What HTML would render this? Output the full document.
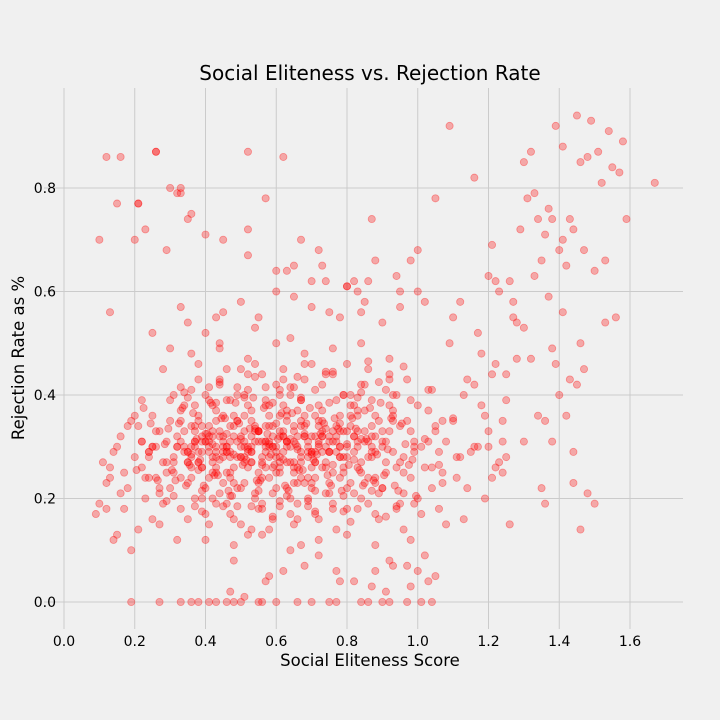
<!DOCTYPE html>
<html><head><meta charset="utf-8"><style>
body{margin:0;background:#f0f0f0;}
svg{display:block;font-family:"DejaVu Sans","Liberation Sans",sans-serif;}
</style></head><body>
<svg id="c" width="720" height="720">
<rect width="720" height="720" fill="#f0f0f0"/>
<g id="grid"></g>
<g id="pts"></g>
<g id="ticks"></g>
<text x="370" y="80" font-size="20" text-anchor="middle" fill="#000">Social Eliteness vs. Rejection Rate</text>
<text x="370" y="666" font-size="16.5" text-anchor="middle" fill="#000">Social Eliteness Score</text>
<text x="24" y="358" font-size="16.5" text-anchor="middle" fill="#000" transform="rotate(-90 24 358)">Rejection Rate as %</text>
</svg>
<script>
const xTicks=[0,0.2,0.4,0.6,0.8,1.0,1.2,1.4,1.6];
const xTickLabels=["0.0","0.2","0.4","0.6","0.8","1.0","1.2","1.4","1.6"];
const yTicks=[0,0.2,0.4,0.6,0.8];
const yTickLabels=["0.0","0.2","0.4","0.6","0.8"];
const xs=[
0.32,0.34,0.36,0.38,0.40,0.42,0.44,0.46,0.48,0.50,0.52,0.54,0.56,0.58,0.60,0.62,0.64,0.66,0.68,0.70,0.72,0.74,0.76,0.78,0.80,0.82,0.84,0.86,0.88,0.90,
0.31,0.35,0.37,0.39,0.41,0.43,0.45,0.47,0.49,0.51,0.53,0.55,0.57,0.59,0.61,0.63,0.65,0.67,0.69,0.71,0.73,0.75,0.77,0.79,0.81,0.83,0.85,0.87,0.89,0.91,
0.30,0.33,0.36,0.39,0.42,0.45,0.48,0.51,0.54,0.57,0.60,0.63,0.66,0.69,0.72,0.75,0.78,0.81,0.84,0.87,0.90,0.93,0.96,0.99,1.02,1.05,0.28,0.26,0.24,0.22,
0.34,0.37,0.40,0.43,0.46,0.49,0.52,0.55,0.58,0.61,0.64,0.67,0.70,0.73,0.76,0.79,0.82,0.85,0.88,0.91,0.94,0.97,1.00,1.03,1.06,0.29,0.27,0.25,0.23,0.21,
0.35,0.38,0.41,0.44,0.47,0.50,0.53,0.56,0.59,0.62,0.65,0.68,0.71,0.74,0.77,0.80,0.83,0.86,0.89,0.92,0.95,0.98,1.01,1.04,1.07,0.33,0.31,0.29,0.27,0.25,
0.36,0.40,0.44,0.48,0.52,0.56,0.60,0.64,0.68,0.72,0.76,0.80,0.84,0.88,0.92,0.96,0.38,0.42,0.46,0.50,0.54,0.58,0.62,0.66,0.70,0.74,0.78,0.82,0.86,0.90,
0.41,0.45,0.49,0.53,0.57,0.61,0.65,0.69,0.73,0.77,0.81,0.85,0.39,0.43,0.47,0.51,0.55,0.59,0.63,0.67,0.71,0.75,0.79,0.83,0.87,0.37,0.53,0.57,0.61,0.65,
0.20,0.18,0.16,0.15,0.13,0.12,0.10,0.19,0.17,0.14,0.22,0.24,0.26,0.11,0.09,0.21,0.23,0.25,0.15,0.18,0.20,0.13,0.17,0.22,0.19,0.16,0.12,0.27,0.14,0.24,
1.08,1.10,1.12,1.14,1.16,1.18,1.20,1.22,1.24,1.09,1.11,1.13,1.15,1.17,1.19,1.21,1.23,1.25,1.27,1.05,1.07,1.03,1.01,0.99,0.97,0.95,0.93,1.06,1.10,1.14,
1.18,1.22,1.26,1.30,1.12,1.16,1.20,1.24,1.28,1.32,1.36,1.04,1.08,1.02,0.98,0.94,1.00,0.96,0.92,1.13,1.17,1.21,1.25,
0.45,0.50,0.55,0.60,0.65,0.70,0.75,0.80,0.85,0.90,0.95,1.00,0.40,0.35,0.30,0.48,0.58,0.68,0.78,0.88,0.98,1.05,0.52,0.62,0.72,0.82,0.92,0.44,0.54,0.64,
0.74,0.84,0.94,0.47,0.57,0.67,0.77,0.87,0.97,0.33,0.43,0.63,0.73,0.83,0.93,1.03,0.38,0.28,0.25,0.32,
0.12,0.15,0.21,0.26,0.30,0.33,0.36,0.40,0.45,0.52,0.57,0.62,0.67,0.72,0.86,0.52,0.35,0.29,0.20,0.60,0.65,0.70,0.80,0.82,0.88,0.95,1.02,0.98,0.91,0.86,
0.48,0.50,0.51,0.36,0.43,0.38,0.60,0.66,0.75,0.84,0.92,0.97,1.01,0.19,0.27,0.33,0.56,0.77,0.90,1.04,0.70,0.55,0.46,0.41,
1.30,1.33,1.36,1.39,1.42,1.45,1.48,1.51,1.54,1.57,1.31,1.34,1.37,1.40,1.43,1.46,1.49,1.52,1.55,1.58,1.29,1.32,1.35,1.38,1.41,1.44,1.47,1.50,1.53,1.56,
1.67,1.59,1.53,1.45,1.40,1.42,1.46,1.38,1.34,1.28,1.26,1.24,1.22,1.20,1.19,1.35,1.44,1.48,1.37,1.33,1.30,1.27,1.23,1.39,1.43,1.41,1.46,1.36,1.25,1.21,
1.09,1.05,1.16,1.00,0.87,0.78,0.52,0.26,0.13,0.16,0.21,0.32,0.33,0.23,0.10,1.41,1.47,1.50,1.44,1.38,
0.31,0.33,0.35,0.37,0.39,0.41,0.43,0.45,0.47,0.49,0.51,0.53,0.55,0.57,0.59,0.61,0.63,0.65,0.67,0.69,0.71,0.73,0.75,0.77,0.79,
0.32,0.34,0.36,0.38,0.40,0.42,0.44,0.46,0.48,0.50,0.52,0.54,0.56,0.58,0.60,0.62,0.64,0.66,0.68,0.70,0.72,0.74,0.76,0.78,0.80,
0.33,0.36,0.38,0.41,0.43,0.46,0.48,0.51,0.53,0.56,0.58,0.61,0.63,0.66,0.68,0.71,0.73,0.76,0.78,0.81,0.83,0.86,0.88,0.91,0.93,
0.30,0.35,0.37,0.40,0.42,0.45,0.47,0.50,0.52,0.55,0.57,0.60,0.62,0.65,0.67,0.70,0.72,0.75,0.77,0.80,0.82,0.85,0.87,0.90,0.92,
0.34,0.39,0.44,0.49,0.54,0.59,0.64,0.69,0.74,0.79,0.84,0.89,0.94,0.99,0.36,0.41,0.46,0.51,0.56,0.61,0.66,0.71,0.76,0.81,0.86,
0.38,0.43,0.48,0.53,0.58,0.63,0.68,0.73,0.78,0.83,0.88,0.93,0.98,0.32,0.37,0.42,0.47,0.52,0.57,0.62,0.67,0.72,0.77,0.82,0.87,
0.25,0.27,0.29,0.31,0.33,0.35,0.37,0.39,0.41,0.43,0.45,0.47,0.49,0.51,0.53,0.55,0.57,0.59,0.61,0.63,0.65,0.67,0.69,0.71,0.73,
0.40,0.44,0.48,0.52,0.56,0.60,0.64,0.68,0.72,0.76,0.80,0.84,0.88,0.92,0.96,1.00,1.04,0.42,0.46,0.50,0.54,0.58,0.62,0.66,0.70,
0.35,0.39,0.43,0.47,0.51,0.55,0.59,0.63,0.67,0.71,0.75,0.79,0.83,0.87,0.91,0.95,0.99,1.03,1.07,1.11,0.26,0.24,0.22,0.28,0.30,
0.45,0.50,0.55,0.60,0.65,0.70,0.75,0.80,0.85,0.90,0.53,0.58,0.63,0.68,0.73,0.78,0.83,0.88,0.93,0.98,0.36,0.41,0.46,0.56,0.61,
0.305,0.325,0.345,0.365,0.385,0.405,0.425,0.445,0.465,0.485,0.505,0.525,0.545,0.565,0.585,0.605,0.625,0.645,0.665,0.685,0.705,0.725,0.745,0.765,0.785,
0.295,0.315,0.335,0.355,0.375,0.395,0.415,0.435,0.455,0.475,0.495,0.515,0.535,0.555,0.575,0.595,0.615,0.635,0.655,0.675,0.695,0.715,0.735,0.755,0.775,
0.805,0.825,0.845,0.865,0.885,0.905,0.925,0.945,0.965,0.985,0.815,0.835,0.855,0.875,0.895,0.915,0.935,0.955,0.975,0.995,0.245,0.265,0.285,0.225,0.205,
0.31,0.35,0.39,0.43,0.47,0.51,0.55,0.59,0.63,0.67,0.71,0.75,0.79,0.83,0.87,0.33,0.37,0.41,0.45,0.49,0.53,0.57,0.61,0.65,0.69,
0.42,0.44,0.46,0.48,0.50,0.52,0.54,0.56,0.58,0.60,0.62,0.64,0.66,0.68,0.70,0.72,0.74,0.36,0.38,0.40,0.76,0.78,0.80,0.82,0.84,
0.29,0.34,0.39,0.44,0.49,0.54,0.59,0.64,0.69,0.74,0.79,0.84,0.89,0.94,1.02,1.06,1.10,0.96,0.91,0.86,0.81,0.76,0.71,0.66,0.61
];
const ys=[
0.30,0.33,0.28,0.35,0.31,0.27,0.32,0.29,0.34,0.30,0.26,0.33,0.31,0.28,0.29,0.32,0.27,0.30,0.34,0.29,0.31,0.26,0.33,0.28,0.30,0.32,0.27,0.31,0.29,0.33,
0.25,0.29,0.34,0.26,0.30,0.35,0.28,0.24,0.31,0.36,0.29,0.25,0.34,0.30,0.27,0.35,0.31,0.24,0.28,0.36,0.26,0.32,0.29,0.25,0.34,0.30,0.37,0.28,0.35,0.31,
0.22,0.37,0.24,0.31,0.20,0.36,0.23,0.33,0.21,0.38,0.25,0.22,0.37,0.24,0.35,0.21,0.30,0.38,0.25,0.32,0.22,0.36,0.28,0.31,0.26,0.33,0.27,0.33,0.29,0.26,
0.38,0.20,0.40,0.19,0.39,0.22,0.41,0.18,0.38,0.41,0.20,0.39,0.23,0.42,0.18,0.40,0.21,0.42,0.24,0.41,0.26,0.43,0.20,0.37,0.29,0.31,0.22,0.36,0.24,0.34,
0.16,0.43,0.15,0.42,0.17,0.45,0.14,0.44,0.16,0.43,0.15,0.46,0.17,0.44,0.14,0.46,0.18,0.45,0.16,0.44,0.19,0.39,0.17,0.41,0.23,0.18,0.40,0.27,0.21,0.30,
0.48,0.12,0.49,0.11,0.47,0.13,0.50,0.10,0.48,0.12,0.49,0.13,0.50,0.11,0.47,0.14,0.27,0.33,0.30,0.28,0.31,0.34,0.29,0.32,0.26,0.30,0.33,0.29,0.28,0.31,
0.29,0.31,0.35,0.32,0.30,0.36,0.33,0.30,0.32,0.34,0.36,0.33,0.32,0.25,0.28,0.30,0.33,0.26,0.31,0.27,0.32,0.29,0.33,0.26,0.34,0.30,0.27,0.31,0.33,0.26,
0.28,0.34,0.21,0.30,0.24,0.18,0.19,0.35,0.25,0.29,0.39,0.24,0.30,0.27,0.17,0.14,0.20,0.16,0.13,0.22,0.36,0.26,0.18,0.31,0.10,0.32,0.23,0.15,0.12,0.28,
0.31,0.35,0.28,0.43,0.30,0.38,0.33,0.46,0.31,0.50,0.24,0.40,0.29,0.52,0.36,0.44,0.27,0.39,0.55,0.34,0.25,0.41,0.30,0.19,0.35,0.27,0.40,0.18,0.55,0.22,
0.48,0.26,0.62,0.31,0.58,0.42,0.63,0.35,0.54,0.47,0.35,0.22,0.15,0.09,0.12,0.18,0.06,0.25,0.33,0.16,0.30,0.24,0.28,
0.56,0.58,0.55,0.60,0.59,0.57,0.56,0.61,0.58,0.54,0.57,0.60,0.52,0.54,0.49,0.08,0.05,0.07,0.04,0.06,0.03,0.05,0.13,0.06,0.09,0.04,0.08,0.50,0.53,0.51,
0.62,0.56,0.63,0.02,0.04,0.11,0.06,0.03,0.07,0.57,0.55,0.64,0.65,0.60,0.07,0.04,0.46,0.45,0.52,0.12,
0.86,0.77,0.77,0.87,0.80,0.79,0.75,0.71,0.70,0.67,0.78,0.86,0.70,0.68,0.62,0.72,0.74,0.68,0.70,0.64,0.65,0.62,0.61,0.62,0.66,0.60,0.58,0.66,0.02,0.00,
0.00,0.00,0.01,0.00,0.00,0.00,0.00,0.00,0.00,0.00,0.00,0.00,0.00,0.00,0.00,0.00,0.00,0.00,0.00,0.00,0.00,0.00,0.00,0.00,
0.85,0.79,0.71,0.92,0.65,0.94,0.86,0.87,0.91,0.83,0.78,0.74,0.76,0.68,0.74,0.85,0.93,0.81,0.84,0.89,0.72,0.87,0.66,0.74,0.70,0.72,0.68,0.64,0.66,0.55,
0.81,0.74,0.54,0.42,0.40,0.36,0.50,0.49,0.36,0.47,0.15,0.25,0.62,0.30,0.20,0.22,0.29,0.21,0.59,0.63,0.53,0.58,0.60,0.46,0.43,0.56,0.14,0.19,0.44,0.69,
0.92,0.78,0.82,0.68,0.74,0.55,0.87,0.87,0.56,0.86,0.77,0.79,0.80,0.72,0.70,0.88,0.45,0.19,0.23,0.31,
0.28,0.31,0.27,0.33,0.29,0.32,0.26,0.30,0.34,0.28,0.31,0.27,0.33,0.29,0.32,0.26,0.30,0.34,0.28,0.31,0.27,0.33,0.29,0.32,0.26,
0.32,0.29,0.34,0.27,0.31,0.28,0.33,0.30,0.26,0.32,0.29,0.34,0.27,0.31,0.28,0.33,0.30,0.26,0.32,0.29,0.34,0.27,0.31,0.28,0.33,
0.24,0.26,0.36,0.24,0.37,0.25,0.36,0.23,0.37,0.24,0.36,0.25,0.37,0.23,0.36,0.24,0.37,0.25,0.36,0.23,0.37,0.24,0.36,0.25,0.37,
0.35,0.23,0.38,0.22,0.38,0.23,0.39,0.22,0.38,0.23,0.39,0.22,0.38,0.23,0.39,0.22,0.38,0.23,0.39,0.22,0.38,0.23,0.39,0.22,0.38,
0.30,0.20,0.21,0.40,0.20,0.21,0.40,0.20,0.21,0.40,0.20,0.21,0.40,0.30,0.41,0.39,0.19,0.40,0.19,0.40,0.19,0.41,0.19,0.40,0.19,
0.29,0.30,0.32,0.29,0.30,0.31,0.32,0.29,0.30,0.31,0.32,0.29,0.33,0.30,0.31,0.32,0.29,0.30,0.31,0.32,0.29,0.30,0.31,0.32,0.29,
0.30,0.33,0.25,0.27,0.35,0.29,0.31,0.26,0.34,0.28,0.32,0.25,0.35,0.27,0.30,0.33,0.26,0.34,0.28,0.31,0.25,0.35,0.29,0.27,0.32,
0.17,0.43,0.16,0.44,0.18,0.42,0.17,0.43,0.16,0.44,0.18,0.42,0.17,0.43,0.21,0.38,0.26,0.25,0.45,0.15,0.46,0.14,0.45,0.16,0.46,
0.27,0.34,0.29,0.31,0.28,0.33,0.30,0.27,0.34,0.29,0.31,0.28,0.33,0.30,0.27,0.34,0.29,0.31,0.35,0.28,0.24,0.29,0.31,0.19,0.39,
0.29,0.28,0.31,0.30,0.27,0.32,0.29,0.28,0.31,0.30,0.35,0.24,0.36,0.23,0.35,0.24,0.36,0.23,0.35,0.24,0.30,0.31,0.29,0.28,0.32,
0.255,0.345,0.225,0.365,0.275,0.325,0.245,0.355,0.215,0.385,0.265,0.335,0.235,0.375,0.285,0.315,0.225,0.365,0.255,0.345,0.275,0.325,0.245,0.355,0.215,
0.335,0.235,0.375,0.265,0.315,0.225,0.385,0.245,0.355,0.205,0.345,0.275,0.395,0.235,0.325,0.265,0.365,0.215,0.305,0.255,0.375,0.285,0.345,0.225,0.335,
0.265,0.335,0.225,0.375,0.285,0.245,0.355,0.215,0.305,0.275,0.355,0.255,0.315,0.235,0.385,0.295,0.225,0.345,0.265,0.205,0.345,0.235,0.305,0.375,0.255,
0.205,0.395,0.215,0.385,0.205,0.395,0.215,0.385,0.205,0.395,0.215,0.385,0.205,0.395,0.215,0.415,0.185,0.415,0.185,0.415,0.185,0.415,0.185,0.415,0.185,
0.305,0.275,0.325,0.285,0.315,0.295,0.335,0.265,0.305,0.345,0.275,0.315,0.295,0.325,0.285,0.305,0.335,0.285,0.255,0.325,0.265,0.345,0.305,0.275,0.315,
0.195,0.405,0.175,0.425,0.185,0.435,0.165,0.415,0.195,0.445,0.175,0.405,0.425,0.185,0.315,0.265,0.355,0.455,0.165,0.465,0.155,0.445,0.175,0.435,0.195
];
const X0=64,XS=353.75,Y0=602,YS=517.5;
const sx=v=>X0+v*XS, sy=v=>Y0-v*YS;
const NS="http://www.w3.org/2000/svg";
const grid=document.getElementById('grid'),tk=document.getElementById('ticks'),pts=document.getElementById('pts');
xTicks.forEach((t,i)=>{
 const l=document.createElementNS(NS,'line');
 l.setAttribute('x1',sx(t));l.setAttribute('x2',sx(t));l.setAttribute('y1',88);l.setAttribute('y2',629);
 l.setAttribute('stroke','#cbcbcb');l.setAttribute('stroke-width','1');
 
 
 grid.appendChild(l);
 const tx=document.createElementNS(NS,'text');
 tx.setAttribute('x',sx(t));tx.setAttribute('y',646);tx.setAttribute('font-size','14');tx.setAttribute('text-anchor','middle');
 tx.textContent=xTickLabels[i];
 
 
 tk.appendChild(tx);
});
yTicks.forEach((t,i)=>{
 const l=document.createElementNS(NS,'line');
 l.setAttribute('x1',44);l.setAttribute('x2',683);l.setAttribute('y1',sy(t));l.setAttribute('y2',sy(t));
 l.setAttribute('stroke','#cbcbcb');l.setAttribute('stroke-width','1');
 
 
 grid.appendChild(l);
 const tx=document.createElementNS(NS,'text');
 tx.setAttribute('x',56);tx.setAttribute('y',sy(t)+5);tx.setAttribute('font-size','14');tx.setAttribute('text-anchor','end');
 tx.textContent=yTickLabels[i];
 
 
 tk.appendChild(tx);
});
const n=Math.min(xs.length,ys.length);
for(let i=0;i<n;i++){
 const c=document.createElementNS(NS,'circle');
 c.setAttribute('cx',sx(xs[i]));c.setAttribute('cy',sy(ys[i]));c.setAttribute('r',3.6);
 c.setAttribute('fill','rgba(255,0,0,0.3)');c.setAttribute('stroke','rgba(255,0,0,0.35)');c.setAttribute('stroke-width','0.8');
 
 
 pts.appendChild(c);
}
</script>
</body></html>
